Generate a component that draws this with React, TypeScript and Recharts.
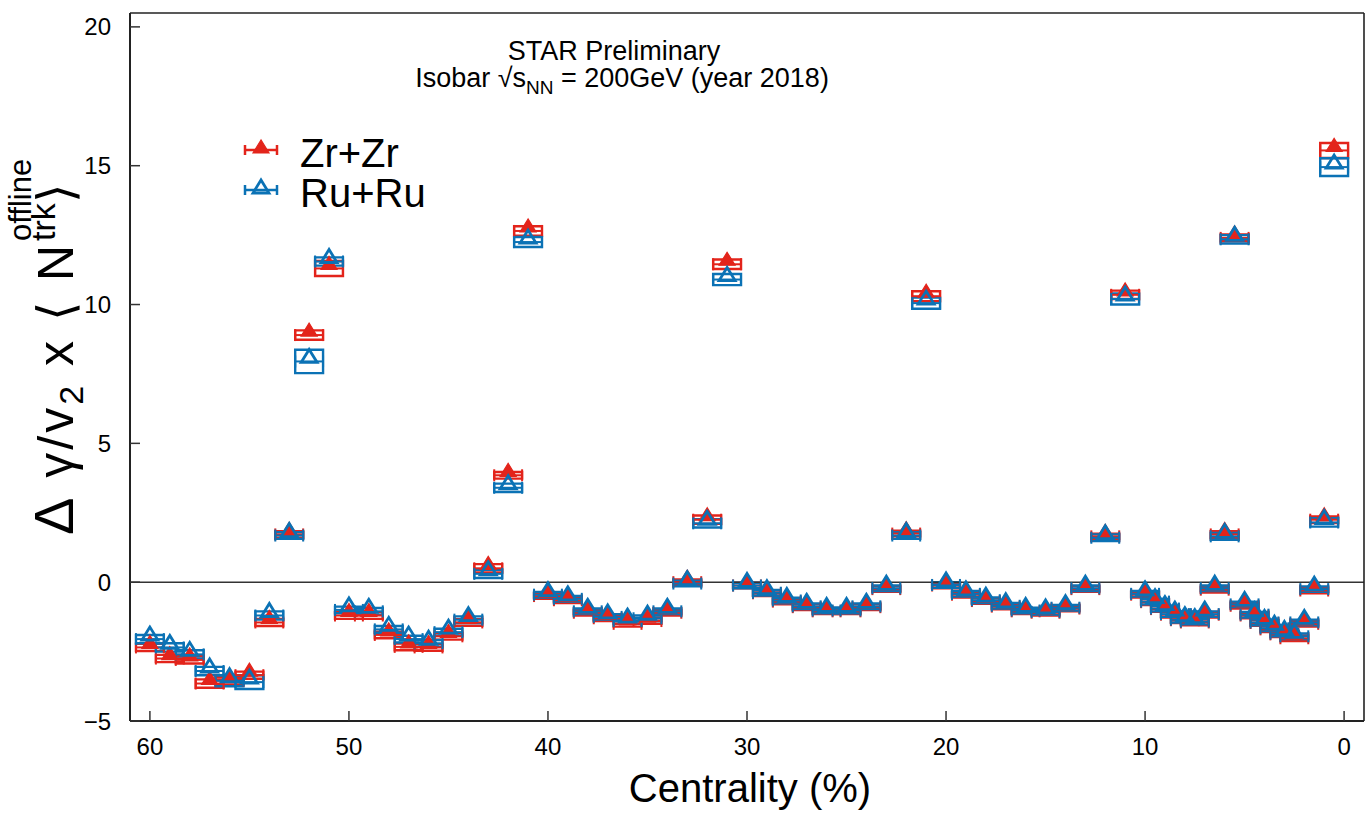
import React from "react";
import {
  ComposedChart,
  Scatter,
  XAxis,
  YAxis,
  ReferenceLine,
  ReferenceArea,
  ErrorBar,
} from "recharts";

// centrality bins (%) — 1% steps down to 11, then 0.5% steps
const centrality = [
  60, 59, 58, 57, 56, 55, 54, 53, 52, 51,
  50, 49, 48, 47, 46, 45, 44, 43, 42, 41,
  40, 39, 38, 37, 36, 35, 34, 33, 32, 31,
  30, 29, 28, 27, 26, 25, 24, 23, 22, 21,
  20, 19, 18, 17, 16, 15, 14, 13, 12, 11,
  10, 9.5, 9, 8.5, 8, 7.5, 7, 6.5, 6, 5.5,
  5, 4.5, 4, 3.5, 3, 2.5, 2, 1.5, 1, 0.5,
];

const zrValues = [
  -2.35, -2.75, -2.8, -3.65, -3.55, -3.35, -1.45, 1.72, 8.9, 11.3,
  -1.2, -1.2, -1.9, -2.33, -2.35, -1.95, -1.45, 0.5, 3.85, 12.65,
  -0.5, -0.65, -1.1, -1.3, -1.5, -1.4, -1.1, 0.0, 2.25, 11.45,
  -0.12, -0.4, -0.7, -0.9, -1.05, -1.05, -0.9, -0.25, 1.75, 10.3,
  -0.12, -0.45, -0.68, -0.88, -1.05, -1.1, -0.95, -0.25, 1.65, 10.35,
  -0.45, -0.72, -0.97, -1.17, -1.37, -1.45, -1.17, -0.27, 1.72, 12.4,
  -0.85, -1.2, -1.47, -1.7, -1.88, -2.02, -1.5, -0.3, 2.25, 15.55,
];

const ruValues = [
  -2.05, -2.35, -2.6, -3.2, -3.55, -3.6, -1.2, 1.68, 7.95, 11.55,
  -1.0, -1.05, -1.7, -2.05, -2.2, -1.8, -1.35, 0.3, 3.4, 12.25,
  -0.45, -0.6, -1.05, -1.25, -1.4, -1.3, -1.05, -0.05, 2.12, 10.9,
  -0.12, -0.38, -0.66, -0.87, -1.02, -1.02, -0.87, -0.22, 1.68, 10.05,
  -0.1, -0.42, -0.65, -0.85, -1.02, -1.07, -0.92, -0.22, 1.6, 10.2,
  -0.42, -0.7, -0.95, -1.15, -1.35, -1.42, -1.15, -0.22, 1.65, 12.35,
  -0.8, -1.17, -1.45, -1.66, -1.85, -1.95, -1.45, -0.25, 2.15, 14.95,
];

// systematic uncertainties (half heights of the boxes)
const zrSys = [
  0.13, 0.13, 0.13, 0.15, 0.13, 0.13, 0.13, 0.12, 0.17, 0.27,
  0.12, 0.12, 0.12, 0.12, 0.12, 0.12, 0.12, 0.15, 0.12, 0.17,
  0.1, 0.1, 0.1, 0.1, 0.1, 0.1, 0.1, 0.1, 0.15, 0.17,
  0.1, 0.1, 0.1, 0.1, 0.1, 0.1, 0.1, 0.1, 0.1, 0.18,
  0.1, 0.1, 0.1, 0.1, 0.1, 0.1, 0.1, 0.1, 0.1, 0.15,
  0.1, 0.1, 0.1, 0.1, 0.1, 0.1, 0.1, 0.1, 0.12, 0.12,
  0.1, 0.1, 0.1, 0.1, 0.1, 0.1, 0.1, 0.1, 0.12, 0.27,
];

const ruSys = [
  0.15, 0.15, 0.15, 0.15, 0.2, 0.25, 0.15, 0.12, 0.42, 0.15,
  0.12, 0.12, 0.12, 0.12, 0.12, 0.12, 0.12, 0.15, 0.15, 0.18,
  0.1, 0.1, 0.1, 0.1, 0.1, 0.1, 0.1, 0.1, 0.15, 0.2,
  0.1, 0.1, 0.1, 0.1, 0.1, 0.1, 0.1, 0.1, 0.12, 0.2,
  0.1, 0.1, 0.1, 0.1, 0.1, 0.1, 0.1, 0.1, 0.12, 0.2,
  0.1, 0.1, 0.1, 0.1, 0.1, 0.1, 0.1, 0.1, 0.12, 0.15,
  0.1, 0.1, 0.1, 0.1, 0.1, 0.1, 0.1, 0.1, 0.15, 0.32,
];

const binHalfWidth = 0.7;
const xTicks = [0, 10, 20, 30, 40, 50, 60];
const yTicks = [-5, 0, 5, 10, 15, 20];

const RED = "#e3241b";
const BLUE = "#0b72b5";
const FONT = '"Liberation Sans", Arial, Helvetica, sans-serif';

const zrData = centrality.map((c, i) => ({ x: c, y: zrValues[i], sys: zrSys[i], xErr: binHalfWidth }));
const ruData = centrality.map((c, i) => ({ x: c, y: ruValues[i], sys: ruSys[i], xErr: binHalfWidth }));

const minusFormat = (v: number) => (v < 0 ? `\u2212${Math.abs(v)}` : `${v}`);

function Triangle(props: any) {
  const { cx, cy, color, open } = props;
  if (cx == null || cy == null) return null;
  const pts = `${cx},${cy - 12} ${cx - 8},${cy + 1} ${cx + 8},${cy + 1}`;
  return (
    <polygon
      points={pts}
      fill={open ? "none" : color}
      stroke={color}
      strokeWidth={open ? 2.8 : 1.2}
    />
  );
}

function LegendMark({ x, y, color, open }: { x: number; y: number; color: string; open: boolean }) {
  return (
    <g>
      <line x1={x - 16} x2={x + 16} y1={y} y2={y} stroke={color} strokeWidth={2.5} />
      <line x1={x - 16} x2={x - 16} y1={y - 5} y2={y + 5} stroke={color} strokeWidth={2.5} />
      <line x1={x + 16} x2={x + 16} y1={y - 5} y2={y + 5} stroke={color} strokeWidth={2.5} />
      <Triangle cx={x} cy={y + 2} color={color} open={open} />
    </g>
  );
}

export default function App() {
  const axisStroke = { stroke: "#222", strokeWidth: 2 };
  const tickStroke = { stroke: "#333", strokeWidth: 1.5 };
  const tickFont = { fontSize: 24, fill: "#000", fontFamily: FONT };

  return (
    <div style={{ position: "absolute", left: 0, top: 0, width: 1367, height: 813, background: "#fff" }}>
      <ComposedChart width={1367} height={813} margin={{ top: 12, right: 2, bottom: 0, left: 0 }}>
        <XAxis
          dataKey="x"
          type="number"
          domain={[-1, 61]}
          reversed
          ticks={xTicks}
          height={92}
          axisLine={axisStroke}
          tickLine={tickStroke}
          tickSize={-10}
          tickMargin={27}
          tick={tickFont}
        />
        <XAxis
          xAxisId="top"
          orientation="top"
          type="number"
          domain={[-1, 61]}
          reversed
          ticks={xTicks}
          height={1}
          axisLine={{ stroke: "#222", strokeWidth: 1.6 }}
          tickLine={tickStroke}
          tickSize={-10}
          tick={false}
        />
        <YAxis
          dataKey="y"
          type="number"
          domain={[-5, 20.5]}
          ticks={yTicks}
          width={130}
          axisLine={axisStroke}
          tickLine={tickStroke}
          tickSize={-10}
          tickMargin={29}
          tick={tickFont}
          tickFormatter={minusFormat}
        />
        <YAxis
          yAxisId="right"
          orientation="right"
          type="number"
          domain={[-5, 20.5]}
          ticks={yTicks}
          width={1}
          axisLine={{ stroke: "#222", strokeWidth: 1.6 }}
          tickLine={tickStroke}
          tickSize={-10}
          tick={false}
        />
        <ReferenceLine y={0} stroke="#333" strokeWidth={1.5} />

        {zrData.map((d, i) => (
          <ReferenceArea
            key={`zr-box-${i}`}
            x1={d.x - binHalfWidth}
            x2={d.x + binHalfWidth}
            y1={d.y - d.sys}
            y2={d.y + d.sys}
            fill="none"
            fillOpacity={0}
            stroke={RED}
            strokeWidth={2.4}
            ifOverflow="visible"
          />
        ))}
        {ruData.map((d, i) => (
          <ReferenceArea
            key={`ru-box-${i}`}
            x1={d.x - binHalfWidth}
            x2={d.x + binHalfWidth}
            y1={d.y - d.sys}
            y2={d.y + d.sys}
            fill="none"
            fillOpacity={0}
            stroke={BLUE}
            strokeWidth={2.4}
            ifOverflow="visible"
          />
        ))}

        <Scatter
          name="Zr+Zr"
          data={zrData}
          dataKey="y"
          fill={RED}
          isAnimationActive={false}
          shape={(p: any) => <Triangle {...p} color={RED} open={false} />}
        >
          <ErrorBar dataKey="xErr" direction="x" width={6} stroke={RED} strokeWidth={2} />
        </Scatter>
        <Scatter
          name="Ru+Ru"
          data={ruData}
          dataKey="y"
          fill={BLUE}
          isAnimationActive={false}
          shape={(p: any) => <Triangle {...p} color={BLUE} open />}
        >
          <ErrorBar dataKey="xErr" direction="x" width={6} stroke={BLUE} strokeWidth={2} />
        </Scatter>
      </ComposedChart>

      {/* texts, legend and axis titles */}
      <svg
        width={1367}
        height={813}
        style={{ position: "absolute", left: 0, top: 0, pointerEvents: "none" }}
        fontFamily={FONT}
      >
        <text x={614} y={60} textAnchor="middle" fontSize={27}>
          STAR Preliminary
        </text>
        <text x={622} y={87} textAnchor="middle" fontSize={27}>
          Isobar √s
          <tspan fontSize={19} dy={7}>NN</tspan>
          <tspan dy={-7}> = 200GeV (year 2018)</tspan>
        </text>

        <LegendMark x={261} y={150} color={RED} open={false} />
        <text x={300} y={167} fontSize={40}>Zr+Zr</text>
        <LegendMark x={261} y={190} color={BLUE} open />
        <text x={300} y={207} fontSize={40}>Ru+Ru</text>

        <text x={750} y={802} textAnchor="middle" fontSize={40}>
          Centrality (%)
        </text>

        <g transform="translate(73, 535) rotate(-90)">
          <text x={0} y={0} fontSize={50} textLength={290} lengthAdjust="spacing">
            <tspan fontSize={56}>Δ</tspan> γ/v<tspan fontSize={34} dy={10}>2</tspan>
            <tspan dy={-10}> x ⟨ N</tspan>
          </text>
          <text x={294} y={-18} fontSize={34}>trk</text>
          <text x={294} y={-42} fontSize={31}>offline</text>
          <text x={332} y={0} fontSize={50}>⟩</text>
        </g>
      </svg>
    </div>
  );
}
